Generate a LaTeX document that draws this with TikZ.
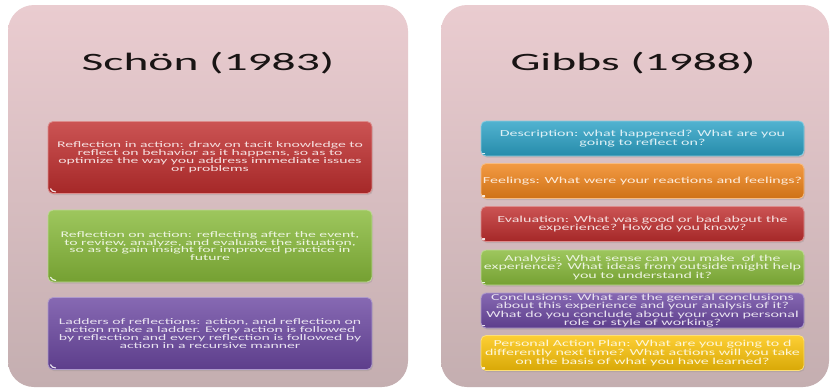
\documentclass[tikz,border=0pt]{standalone}
\usepackage{fontspec}
\usetikzlibrary{shadows}
\newfontfamily\headfont[FakeStretch=1.9]{Carlito}
\newfontfamily\leftfont[FakeStretch=1.83]{Carlito}
\newfontfamily\rightfont[FakeStretch=1.74]{Carlito}

\definecolor{panelTop}{RGB}{234,204,208}
\definecolor{panelMid}{RGB}{216,186,190}
\definecolor{panelBot}{RGB}{196,174,176}
\definecolor{titleInk}{RGB}{25,20,20}
\definecolor{cRed}{RGB}{192,46,46}
\definecolor{cGreen}{RGB}{136,186,58}
\definecolor{cPurple}{RGB}{108,72,162}
\definecolor{cBlue}{RGB}{44,162,198}
\definecolor{cOrange}{RGB}{240,132,26}
\definecolor{cYellow}{RGB}{252,196,8}

\tikzset{
  panel/.style={rounded corners=26pt, top color=panelTop, middle color=panelMid,
    bottom color=panelBot, inner sep=0pt, minimum width=400pt, minimum height=382pt},
  heading/.style={font=\headfont\fontsize{25}{30}\selectfont, text=titleInk},
  card/.style={rounded corners=5pt, inner sep=0pt, align=center,
    top color=#1!82!white, bottom color=#1!86!black, draw=#1!55!white, line width=0.8pt,
    text=white!84!#1, drop shadow={opacity=0.25, shadow xshift=1pt, shadow yshift=-1.5pt}},
  wide/.style={minimum width=324pt, minimum height=72pt,
    font=\leftfont\fontsize{8.6}{7.9}\selectfont},
  narrow/.style={minimum width=323pt, minimum height=35pt,
    font=\rightfont\fontsize{9.2}{8.8}\selectfont},
  glint/.style={white, line width=1.2pt, line cap=round, opacity=0.85}
}

\begin{document}
\begin{tikzpicture}[x=1pt,y=-1pt]
\useasboundingbox (0,0) rectangle (832,389);
\fill[white] (0,0) rectangle (832,389);

% two background panels
\node[panel] (schon) at (208,196) {};
\node[panel, minimum width=388pt] (gibbs) at (635,196) {};

% headings
\node[heading] (schonT) at (208,63) {Schön (1983)};
\node[heading] (gibbsT) at (633,63) {Gibbs (1988)};

% Schön cards
\node[card=cRed, wide] (inA) at (210,157.5)
  {Reflection in action: draw on tacit knowledge to\\
   reflect on behavior as it happens, so as to\\
   optimize the way you address immediate issues\\
   or problems};
\node[card=cGreen, wide] (onA) at (210,246)
  {Reflection on action: reflecting after the event,\\
   to review, analyze, and evaluate the situation,\\
   so as to gain insight for improved practice in\\
   future};
\node[card=cPurple, wide] (ladder) at (210,333.5)
  {Ladders of reflections: action, and reflection on\\
   action make a ladder. Every action is followed\\
   by reflection and every reflection is followed by\\
   action in a recursive manner};

% Gibbs cards
\node[card=cBlue, narrow] (desc) at (642.5,138.5)
  {Description: what happened? What are you\\ going to reflect on?};
\node[card=cOrange, narrow] (feel) at (642.5,181)
  {Feelings: What were your reactions and feelings?};
\node[card=cRed, narrow] (eval) at (642.5,224)
  {Evaluation: What was good or bad about the\\ experience? How do you know?};
\node[card=cGreen, narrow] (anal) at (642.5,267.5)
  {Analysis: What sense can you make\ \ of the\\
   experience? What ideas from outside might help\\
   you to understand it?};
\node[card=cPurple, narrow, font=\rightfont\fontsize{9.2}{8.2}\selectfont] (concl) at (642.5,310.5)
  {Conclusions: What are the general conclusions\\
   about this experience and your analysis of it?\\
   What do you conclude about your own personal\\
   role or style of working?};
\node[card=cYellow, narrow] (plan) at (642.5,353)
  {Personal Action Plan: What are you going to d\\
   differently next time? What actions will you take\\
   on the basis of what you have learned?};

% small highlights at the lower left of each card
\foreach \n in {inA,onA,ladder}
  \draw[glint] ([xshift=3pt,yshift=5pt]\n.south west) to[bend right=30] ([xshift=8pt,yshift=2pt]\n.south west);
\foreach \n in {desc,feel,eval,anal,concl,plan}
  \draw[glint] ([xshift=2pt,yshift=3pt]\n.south west) -- ([xshift=4pt,yshift=3pt]\n.south west);
\end{tikzpicture}
\end{document}
